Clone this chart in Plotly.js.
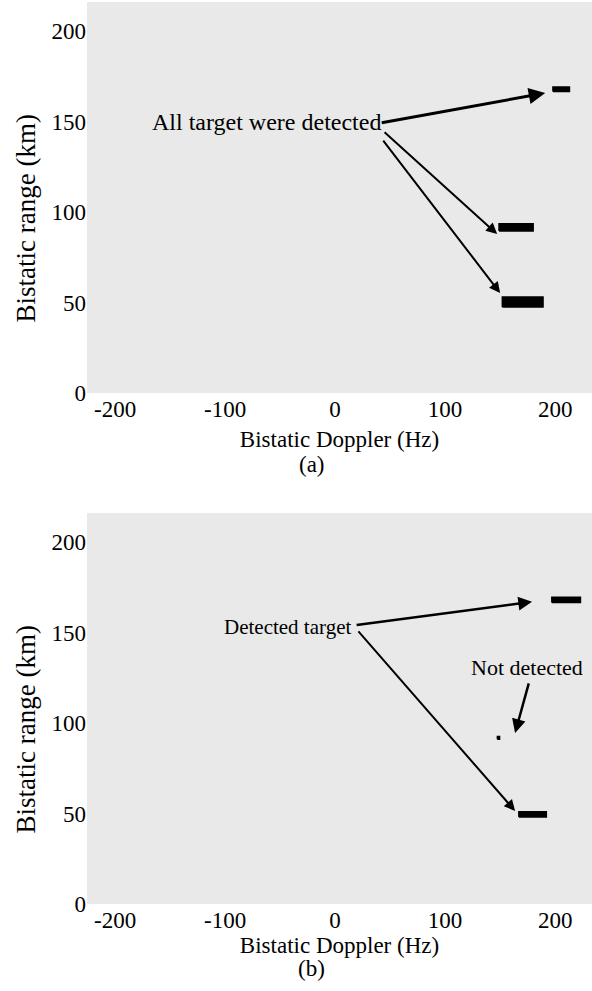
<!DOCTYPE html>
<html>
<head>
<meta charset="utf-8">
<script src="https://cdn.plot.ly/plotly-3.0.1.min.js"></script>
<style>html,body{margin:0;padding:0;background:#fff;}#chart{width:592px;height:991px;}</style>
</head>
<body>
<div id="chart"></div>
<script>
// ---- Data ----
// Panel (a): detected target cells (Doppler extent in Hz, range extent in km)
var detA_dopplerMin = [198, 149, 152];
var detA_dopplerMax = [213, 180, 189];
var detA_rangeMin   = [166.5, 89.5, 47.5];
var detA_rangeMax   = [169.0, 93.5, 53.0];

// Panel (b)
var detB_dopplerMin = [197, 147.5, 167];
var detB_dopplerMax = [223, 149.5, 192];
var detB_rangeMin   = [166.5, 91.0, 48.0];
var detB_rangeMax   = [169.5, 92.5, 51.0];

var xTicks = [-200, -100, 0, 100, 200];
var yTicks = [0, 50, 100, 150, 200];
var xRange = [-225.5, 233.5];
var yRange = [0, 216];

// annotation texts and arrow endpoints (tail -> tip) in data units
var labelA = "All target were detected";
var labelA_pos = [-168.5, 149.7];
var arrowsA = [ // [tailX, tailY, tipX, tipY]
  [41, 149.2, 191, 165.7],
  [43.6, 144.8, 147.3, 87.8],
  [42.7, 140.3, 150, 55.2]
];
var labelB1 = "Detected target";
var labelB1_pos = [-102.7, 153];
var arrowsB1 = [
  [18.2, 154, 179, 166.9],
  [20, 151.4, 163.6, 51.4]
];
var labelB2 = "Not detected";
var labelB2_pos = [174, 130.4];
var arrowB2 = [176.4, 122.7, 163.6, 94.5];

var xTitle = "Bistatic Doppler (Hz)";
var yTitle = "Bistatic range (km)";

// ---- Build ----
var FONT = '"Liberation Serif", "Times New Roman", serif';

function blobs(xmin, xmax, ymin, ymax, xa, ya) {
  var xs = [], ys = [];
  for (var i = 0; i < xmin.length; i++) {
    xs.push(xmin[i], xmax[i], xmax[i], xmin[i], xmin[i], null);
    ys.push(ymin[i], ymin[i], ymax[i], ymax[i], ymin[i], null);
  }
  return {
    x: xs, y: ys, xaxis: xa, yaxis: ya, type: 'scatter', mode: 'lines',
    fill: 'toself', fillcolor: '#000', line: {color: '#000', width: 1.5},
    hoverinfo: 'skip', showlegend: false
  };
}

var traces = [
  blobs(detA_dopplerMin, detA_dopplerMax, detA_rangeMin, detA_rangeMax, 'x', 'y'),
  blobs(detB_dopplerMin, detB_dopplerMax, detB_rangeMin, detB_rangeMax, 'x2', 'y2')
];

function arrow(a, xr, yr, w) {
  return {
    x: a[2], y: a[3], ax: a[0], ay: a[1], xref: xr, yref: yr, axref: xr, ayref: yr,
    showarrow: true, arrowhead: 2, arrowsize: 1.1, arrowwidth: w, arrowcolor: '#000', text: ''
  };
}

function yTitleAnn(yref) {
  return {x: 0, xref: 'paper', xshift: -61, y: 0.5, yref: yref, yshift: -21,
    text: yTitle, textangle: -90, showarrow: false, xanchor: 'center', yanchor: 'middle',
    font: {family: FONT, size: 27, color: '#000'}};
}

var annotations = [
  {x: labelA_pos[0], y: labelA_pos[1], xref: 'x', yref: 'y', text: labelA, showarrow: false,
   xanchor: 'left', yanchor: 'middle', font: {family: FONT, size: 24, color: '#000'}},
  arrow(arrowsA[0], 'x', 'y', 3),
  arrow(arrowsA[1], 'x', 'y', 2),
  arrow(arrowsA[2], 'x', 'y', 2),
  {x: labelB1_pos[0], y: labelB1_pos[1], xref: 'x2', yref: 'y2', text: labelB1, showarrow: false,
   xanchor: 'left', yanchor: 'middle', font: {family: FONT, size: 21, color: '#000'}},
  arrow(arrowsB1[0], 'x2', 'y2', 2.5),
  arrow(arrowsB1[1], 'x2', 'y2', 2),
  {x: labelB2_pos[0], y: labelB2_pos[1], xref: 'x2', yref: 'y2', text: labelB2, showarrow: false,
   xanchor: 'center', yanchor: 'middle', font: {family: FONT, size: 22, color: '#000'}},
  arrow(arrowB2, 'x2', 'y2', 2.5),
  yTitleAnn('y domain'),
  yTitleAnn('y2 domain'),
  {x: 0.4455, y: 0.4867, xref: 'paper', yref: 'paper', text: '(a)', showarrow: false,
   xanchor: 'center', yanchor: 'middle', font: {family: FONT, size: 23, color: '#000'}},
  {x: 0.4455, y: -0.071, xref: 'paper', yref: 'paper', text: '(b)', showarrow: false,
   xanchor: 'center', yanchor: 'middle', font: {family: FONT, size: 23, color: '#000'}}
];

function xax(anchor, standoff) {
  return {
    anchor: anchor, range: xRange, tickvals: xTicks, ticktext: xTicks.map(String),
    showgrid: false, zeroline: false, showline: false, ticks: '',
    tickfont: {family: FONT, size: 23, color: '#000'},
    title: {text: xTitle, font: {family: FONT, size: 23, color: '#000'}, standoff: standoff}
  };
}
function yax(anchor, domain) {
  return {
    anchor: anchor, domain: domain, range: yRange, tickvals: yTicks, ticktext: yTicks.map(String),
    showgrid: false, zeroline: false, showline: false, ticks: '',
    tickfont: {family: FONT, size: 23, color: '#000'}
  };
}

var layout = {
  width: 592, height: 991,
  margin: {l: 87, r: 0, t: 2, b: 87},
  paper_bgcolor: '#fff', plot_bgcolor: '#e9e9e9',
  showlegend: false,
  xaxis: xax('y', 9),
  yaxis: yax('x', [0.5665, 1]),
  xaxis2: xax('y2', 4),
  yaxis2: yax('x2', [0, 0.4335]),
  annotations: annotations
};

Plotly.newPlot('chart', traces, layout, {staticPlot: true, displayModeBar: false});
</script>
</body>
</html>
